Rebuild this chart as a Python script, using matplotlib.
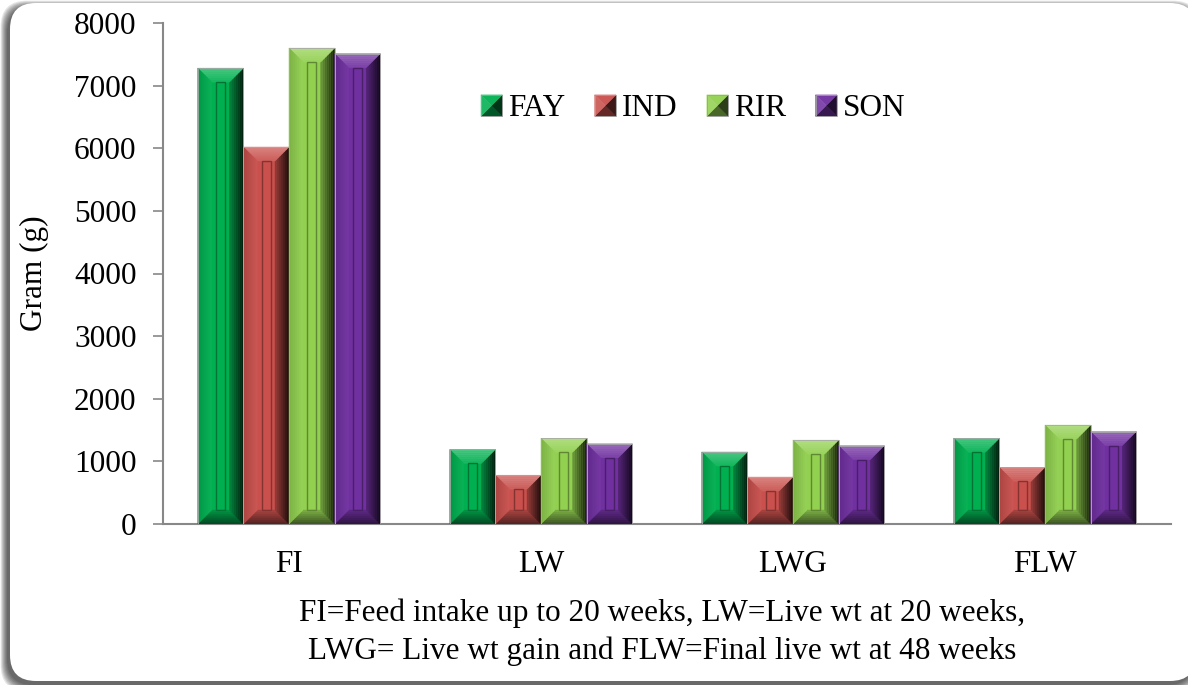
"""
Consumo de alimento y peso vivo por raza (barras con efecto bisel)
"""

import numpy as np
import matplotlib
matplotlib.use("Agg")
import matplotlib.pyplot as plt
import matplotlib.colors as mcolors
from matplotlib.patches import Polygon, Rectangle, FancyBboxPatch
from matplotlib.legend_handler import HandlerBase
from matplotlib.transforms import IdentityTransform

# Datos
categories = ["FI", "LW", "LWG", "FLW"]
breeds = ["FAY", "IND", "RIR", "SON"]
fay = [7280, 1190, 1150, 1370]
ind = [6020, 780, 750, 905]
rir = [7600, 1370, 1340, 1580]
son = [7510, 1280, 1250, 1475]
colors = ["#00B050", "#C9504C", "#92D050", "#7030A0"]
y_ticks = [0, 1000, 2000, 3000, 4000, 5000, 6000, 7000, 8000]
y_label = "Gram (g)"
caption = ("FI=Feed intake up to 20 weeks, LW=Live wt at 20 weeks,\n"
           "LWG= Live wt gain and FLW=Final live wt at 48 weeks")

plt.rcParams["font.family"] = ["Liberation Serif", "DejaVu Serif"]
plt.rcParams["font.size"] = 22.5

W, H = 1188, 685


def mix(c, other, t):
    c = np.array(mcolors.to_rgb(c))
    o = np.array(mcolors.to_rgb(other))
    return tuple(c * (1 - t) + o * t)


def bevel(ax, rect, face, bx, by, n=7):
    x0 = rect.get_x()
    x1 = x0 + rect.get_width()
    y0 = rect.get_y()
    y1 = y0 + rect.get_height()
    outer = [(x0, y0), (x1, y0), (x1, y1), (x0, y1)]
    inner = [(x0 + bx, y0 + by), (x1 - bx, y0 + by),
             (x1 - bx, y1 - by), (x0 + bx, y1 - by)]
    sides = [(0, 1, mix(face, "k", 0.6), mix(face, "k", 0.15)),
             (1, 2, mix(face, "k", 0.85), mix(face, "k", 0.25)),
             (2, 3, mix(face, "w", 0.3), mix(face, "w", 0.08)),
             (3, 0, mix(face, "k", 0.15), mix(face, "w", 0.04))]

    def lerp(i, t):
        return (outer[i][0] + (inner[i][0] - outer[i][0]) * t,
                outer[i][1] + (inner[i][1] - outer[i][1]) * t)

    for a, b, co, ci in sides:
        for k in range(n):
            t0, t1 = k / n, (k + 1) / n
            poly = [lerp(a, t0), lerp(b, t0), lerp(b, t1), lerp(a, t1)]
            col = mix(co, ci, (k + 0.5) / n)
            ax.add_patch(Polygon(poly, closed=True, facecolor=col,
                                 edgecolor=col, lw=0.3, zorder=3))
    # ranura interior
    cx = (x0 + x1) / 2
    gw = 0.2 * (x1 - x0)
    ax.add_patch(Rectangle((cx - gw / 2, y0 + by), gw, y1 - y0 - 2 * by,
                           fill=False, edgecolor=mix(face, "k", 0.35),
                           lw=1.0, zorder=3.5))
    ax.add_patch(Rectangle((x0, y0), x1 - x0, y1 - y0, fill=False,
                           edgecolor="#a8a8a8", lw=0.6, zorder=4))


class PyramidHandler(HandlerBase):
    def create_artists(self, legend, orig_handle, xdescent, ydescent,
                       width, height, fontsize, trans):
        face = orig_handle.get_facecolor()
        s = min(width, height)
        x0 = -xdescent + (width - s) / 2
        y0 = -ydescent + (height - s) / 2
        c = (x0 + s / 2, y0 + s / 2)
        pts = [(x0, y0), (x0 + s, y0), (x0 + s, y0 + s), (x0, y0 + s)]
        shades = [mix(face, "k", 0.5), mix(face, "k", 0.7),
                  mix(face, "w", 0.05), mix(face, "w", 0.12)]
        artists = []
        for i in range(4):
            tri = Polygon([pts[i], pts[(i + 1) % 4], c], closed=True,
                          facecolor=shades[i], edgecolor=shades[i],
                          lw=0.3, transform=trans)
            artists.append(tri)
        artists.append(Rectangle((x0, y0), s, s, fill=False,
                                 edgecolor="#a0a0a0", lw=0.6,
                                 transform=trans))
        return artists


fig = plt.figure(figsize=(W / 100, H / 100), dpi=100)
fig.patch.set_facecolor("white")

# Marco redondeado con sombra (en pixeles)
fx0, fy0, fx1, fy1 = 10, 3, 1196, 681
for i in range(8):
    sh = FancyBboxPatch((fx0 - 3, H - fy1 - 4), fx1 - fx0, fy1 - fy0,
                        boxstyle="round,pad={},rounding_size=26".format(i * 0.9),
                        transform=IdentityTransform(), facecolor="black",
                        edgecolor="none", alpha=0.1, zorder=-20)
    fig.add_artist(sh)
frame = FancyBboxPatch((fx0, H - fy1), fx1 - fx0, fy1 - fy0,
                       boxstyle="round,pad=0,rounding_size=26",
                       transform=IdentityTransform(), facecolor="white",
                       edgecolor="none", zorder=-10)
fig.add_artist(frame)

ax = fig.add_axes([163 / W, 1 - 524 / H, 1008 / W, 501 / H])
ax.patch.set_alpha(0)

series = [fay, ind, rir, son]
x = np.arange(len(categories))
bar_w = 0.181
ax.set_xlim(-0.5, len(categories) - 0.5)
ax.set_ylim(0, 8000)

# Tamano del bisel: 14 px convertidos a unidades de datos
bx = 14 * 4 / 1008
by = 14 * 8000 / 501

handles = []
for i, (vals, col) in enumerate(zip(series, colors)):
    bars = ax.bar(x + (i - 1.5) * bar_w, vals, bar_w, color=col,
                  edgecolor="none", zorder=2)
    for rect in bars:
        bevel(ax, rect, col, bx, by)
    handles.append(Rectangle((0, 0), 1, 1, facecolor=col))

ax.set_xticks(x)
ax.set_xticklabels(categories)
ax.set_yticks(y_ticks)
ax.tick_params(axis="x", length=0, pad=19)
ax.tick_params(axis="y", length=7, width=1.2, color="#888888", pad=12)
for side in ["top", "right"]:
    ax.spines[side].set_visible(False)
for side in ["left", "bottom"]:
    ax.spines[side].set_color("#888888")
    ax.spines[side].set_linewidth(1.5)
ax.set_ylabel(y_label)
ax.yaxis.set_label_coords(-0.113, 0.5)

fig.legend(handles, breeds, handler_map={Rectangle: PyramidHandler()},
           loc="center left", bbox_to_anchor=(481 / W, 1 - 109 / H),
           ncol=4, frameon=False, borderpad=0, borderaxespad=0,
           handlelength=0.68, handleheight=0.68, handletextpad=0.18,
           columnspacing=0.95, fontsize=22.5)

fig.text(662 / W, 1 - 632 / H, caption, ha="center", va="center",
         multialignment="center", linespacing=1.4, fontsize=22.5)

fig.savefig("out.png", dpi=100)
